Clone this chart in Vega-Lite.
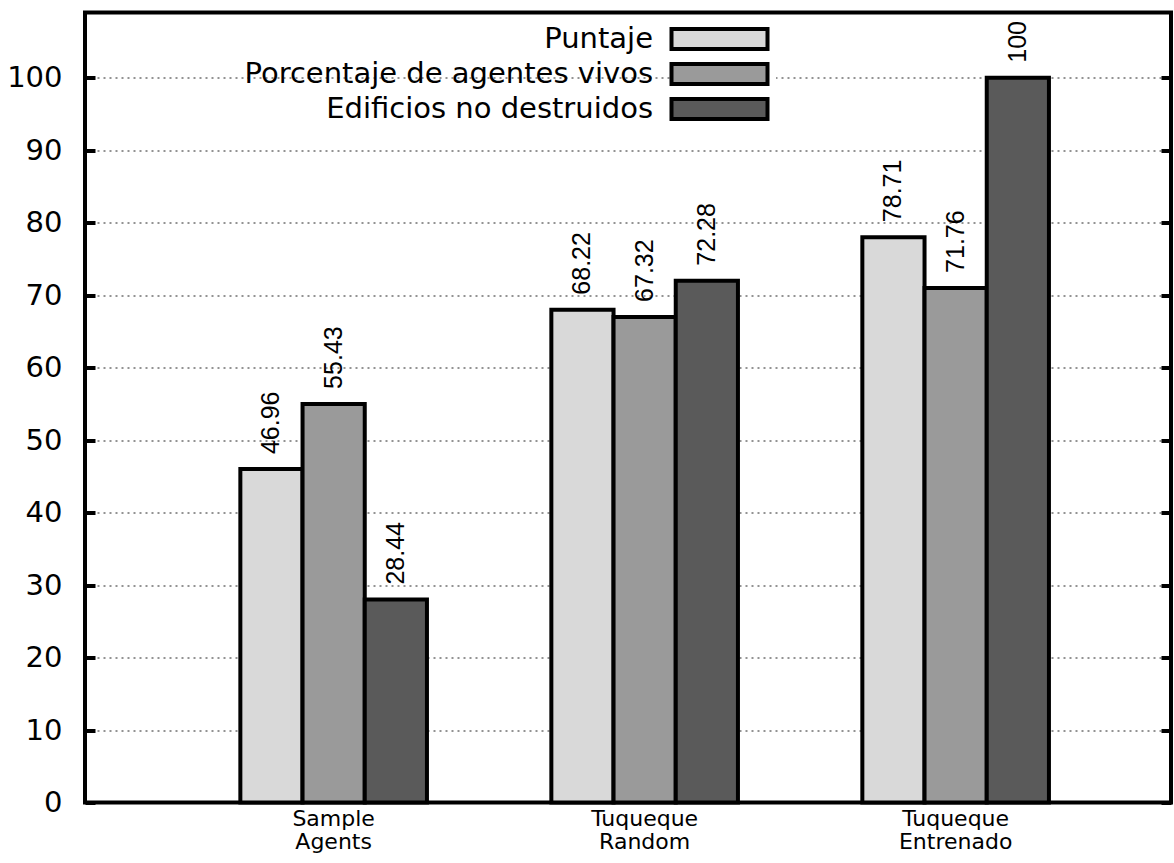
{
  "$schema": "https://vega.github.io/schema/vega-lite/v6.json",
  "width": 1086,
  "height": 790,
  "autosize": {"type": "none"},
  "padding": {"left": 85, "top": 12.5, "right": 3, "bottom": 60.5},
  "background": "white",
  "config": {
    "view": {"stroke": "black", "strokeWidth": 4},
    "font": "DejaVu Sans",
    "axis": {"domain": false}
  },
  "data": {
    "values": [
      {"grupo": "Sample Agents", "serie": "Puntaje", "barra": 46, "etiqueta": "46.96"},
      {"grupo": "Sample Agents", "serie": "Porcentaje de agentes vivos", "barra": 55, "etiqueta": "55.43"},
      {"grupo": "Sample Agents", "serie": "Edificios no destruidos", "barra": 28, "etiqueta": "28.44"},
      {"grupo": "Tuqueque Random", "serie": "Puntaje", "barra": 68, "etiqueta": "68.22"},
      {"grupo": "Tuqueque Random", "serie": "Porcentaje de agentes vivos", "barra": 67, "etiqueta": "67.32"},
      {"grupo": "Tuqueque Random", "serie": "Edificios no destruidos", "barra": 72, "etiqueta": "72.28"},
      {"grupo": "Tuqueque Entrenado", "serie": "Puntaje", "barra": 78, "etiqueta": "78.71"},
      {"grupo": "Tuqueque Entrenado", "serie": "Porcentaje de agentes vivos", "barra": 71, "etiqueta": "71.76"},
      {"grupo": "Tuqueque Entrenado", "serie": "Edificios no destruidos", "barra": 100, "etiqueta": "100"}
    ]
  },
  "encoding": {
    "x": {
      "field": "grupo",
      "type": "nominal",
      "sort": ["Sample Agents", "Tuqueque Random", "Tuqueque Entrenado"],
      "scale": {"paddingInner": 0.4, "paddingOuter": 0.446, "align": 0.56},
      "axis": {
        "title": null,
        "ticks": false,
        "labelAngle": 0,
        "labelFont": "DejaVu Sans",
        "labelFontSize": 22,
        "labelColor": "black",
        "labelPadding": 6,
        "labelLineHeight": 23,
        "labelBaseline": "top",
        "labelExpr": "split(datum.label, ' ')"
      }
    },
    "xOffset": {
      "field": "serie",
      "type": "nominal",
      "sort": ["Puntaje", "Porcentaje de agentes vivos", "Edificios no destruidos"],
      "scale": {"paddingInner": 0, "paddingOuter": 0}
    },
    "y": {
      "field": "barra",
      "type": "quantitative",
      "scale": {"domain": [0, 109], "nice": false, "zero": true}
    }
  },
  "layer": [
    {
      "mark": {"type": "bar", "stroke": "black", "strokeWidth": 4, "strokeJoin": "miter", "opacity": 1},
      "encoding": {
        "y": {
          "field": "barra",
          "type": "quantitative",
          "axis": {
            "orient": "left",
            "title": null,
            "values": [0, 10, 20, 30, 40, 50, 60, 70, 80, 90, 100],
            "labelFont": "DejaVu Sans",
            "labelFontSize": 29,
            "labelColor": "black",
            "tickSize": -10,
            "tickWidth": 4,
            "tickColor": "black",
            "labelPadding": 33,
            "grid": true,
            "gridDash": [2, 4],
            "gridColor": "#000",
            "gridWidth": 1,
            "gridOpacity": 0.85
          }
        },
        "fill": {
          "field": "serie",
          "type": "nominal",
          "scale": {
            "domain": ["Puntaje", "Porcentaje de agentes vivos", "Edificios no destruidos"],
            "range": ["#d9d9d9", "#9a9a9a", "#5a5a5a"]
          },
          "legend": {
            "title": null,
            "orient": "none",
            "legendX": 620,
            "legendY": 12,
            "padding": 0,
            "symbolType": "M-4.8,-1H4.8V1H-4.8Z",
            "symbolSize": 400,
            "symbolStrokeColor": "black",
            "symbolStrokeWidth": 4,
            "symbolOpacity": 1,
            "labelAlign": "right",
            "labelOffset": -81,
            "labelFont": "DejaVu Sans",
            "labelFontSize": 29,
            "labelColor": "black",
            "labelLimit": 0,
            "rowPadding": -2,
            "fillColor": "white"
          }
        }
      }
    },
    {
      "mark": {"type": "text", "angle": 270, "align": "left", "baseline": "middle", "dx": 15, "font": "Liberation Sans", "fontSize": 25, "color": "black"},
      "encoding": {
        "y": {
          "field": "barra",
          "type": "quantitative",
          "axis": {
            "orient": "right",
            "title": null,
            "values": [0, 10, 20, 30, 40, 50, 60, 70, 80, 90, 100],
            "labels": false,
            "grid": false,
            "tickSize": -10,
            "tickWidth": 4,
            "tickColor": "black"
          }
        },
        "text": {"field": "etiqueta", "type": "nominal"}
      }
    }
  ],
  "resolve": {"axis": {"y": "independent"}}
}
